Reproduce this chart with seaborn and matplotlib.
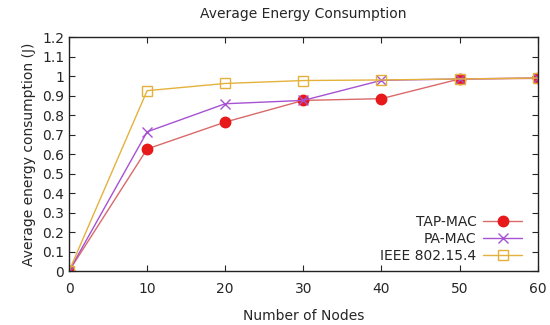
import pandas as pd
import seaborn as sns
import matplotlib.pyplot as plt

nodes = [0, 10, 20, 30, 40, 50, 60]
tap_mac = [0.0, 0.626, 0.764, 0.875, 0.884, 0.985, 0.988]
pa_mac = [0.0, 0.714, 0.858, 0.875, 0.978, 0.985, 0.99]
ieee = [0.0, 0.925, 0.962, 0.977, 0.98, 0.985, 0.99]
labels = ['TAP-MAC', 'PA-MAC', 'IEEE 802.15.4']

df = pd.DataFrame({
    'nodes': nodes * 3,
    'energy': tap_mac + pa_mac + ieee,
    'protocol': [labels[0]] * 7 + [labels[1]] * 7 + [labels[2]] * 7,
})

sns.set_style('ticks')
plt.rcParams['font.family'] = ['DejaVu Sans']

fig = plt.figure(figsize=(5.5, 3.25), dpi=100)
ax = fig.add_axes([0.1255, 0.166, 0.852, 0.72])

line_cols = {'TAP-MAC': '#d86a6a', 'PA-MAC': '#a652d2', 'IEEE 802.15.4': '#e4b23c'}
marker_face = {'TAP-MAC': '#e8191a', 'PA-MAC': 'none', 'IEEE 802.15.4': 'none'}
marker_edge = {'TAP-MAC': '#e8191a', 'PA-MAC': '#a652d2', 'IEEE 802.15.4': '#e4b23c'}
marks = {'TAP-MAC': 'o', 'PA-MAC': 'x', 'IEEE 802.15.4': 's'}
msize = {'TAP-MAC': 7.5, 'PA-MAC': 7.5, 'IEEE 802.15.4': 7}

for lab in labels:
    sub = df[df['protocol'] == lab]
    sns.lineplot(data=sub, x='nodes', y='energy', ax=ax, color=line_cols[lab],
                 marker=marks[lab], markersize=msize[lab], markerfacecolor=marker_face[lab],
                 markeredgecolor=marker_edge[lab], markeredgewidth=1.0,
                 linewidth=1.0, label=lab)

ax.set_xlim(0, 60)
ax.set_ylim(0, 1.2)
ax.set_xticks(range(0, 61, 10))
ax.set_yticks([i / 10 for i in range(13)])
ax.set_yticklabels(['0', '0.1', '0.2', '0.3', '0.4', '0.5', '0.6', '0.7', '0.8', '0.9', '1', '1.1', '1.2'])
ax.tick_params(direction='in', top=True, right=True, labelsize=10, length=4)
ax.tick_params(axis='x', pad=8)
for s in ax.spines.values():
    s.set_linewidth(1.0)
    s.set_color('#222222')

ax.set_xlabel('Number of Nodes', fontsize=10, labelpad=9)
ax.set_ylabel('Average energy consumption (J)', fontsize=10)
ax.set_title('Average Energy Consumption', fontsize=10, pad=14)
ax.legend(loc='lower right', frameon=False, markerfirst=False, fontsize=10,
          handlelength=2.8, handletextpad=0.5, labelspacing=0.2, borderaxespad=0.2,
          bbox_to_anchor=(0.985, 0.0))
for t in ax.get_legend().get_texts():
    t.set_ha('right')

fig.savefig('out.png', dpi=100)
